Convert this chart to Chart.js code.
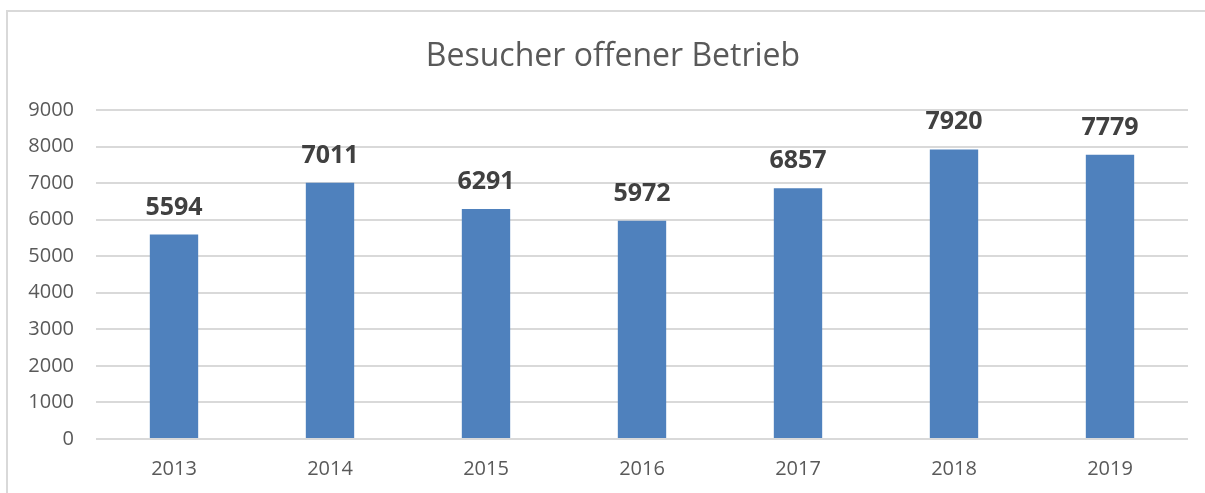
<!DOCTYPE html>
<html>
<head>
<meta charset="utf-8">
<script src="https://cdn.jsdelivr.net/npm/chart.js@4/dist/chart.umd.min.js"></script>
<style>
  html, body { margin: 0; padding: 0; background: #fff; }
  #wrap { position: relative; width: 1205px; height: 493px; overflow: hidden; }
  #frame { position: absolute; left: 6px; top: 10px; width: 1300px; height: 600px; border: 2px solid #d9d9d9; box-sizing: border-box; pointer-events: none; }
  canvas { position: absolute; left: 0; top: 0; }
</style>
</head>
<body>
<div id="wrap">
  <canvas id="c" width="1205" height="493"></canvas>
  <div id="frame"></div>
</div>
<script>
const categories = ["2013", "2014", "2015", "2016", "2017", "2018", "2019"];
const visitors = [5594, 7011, 6291, 5972, 6857, 7920, 7779];
const yTicks = [0, 1000, 2000, 3000, 4000, 5000, 6000, 7000, 8000, 9000];
const chartTitle = "Besucher offener Betrieb";

const FONT = "'Open Sans', 'Liberation Sans', sans-serif";

const valueLabels = {
  id: 'valueLabels',
  afterDatasetsDraw(chart) {
    const ctx = chart.ctx;
    const meta = chart.getDatasetMeta(0);
    ctx.save();
    ctx.font = "bold 25px " + FONT;
    ctx.fillStyle = "#404040";
    ctx.textAlign = "center";
    ctx.textBaseline = "alphabetic";
    meta.data.forEach((bar, i) => {
      ctx.fillText(String(visitors[i]), bar.x, bar.y - 20);
    });
    ctx.restore();
  }
};

const offsetTitle = {
  id: 'offsetTitle',
  afterDraw(chart) {
    const ctx = chart.ctx;
    ctx.save();
    ctx.font = "normal 32px " + FONT;
    ctx.fillStyle = "#595959";
    ctx.textAlign = "center";
    ctx.textBaseline = "middle";
    ctx.fillText(chartTitle, 613, 57);
    ctx.restore();
  }
};

new Chart(document.getElementById('c'), {
  type: 'bar',
  data: {
    labels: categories,
    datasets: [{
      data: visitors,
      backgroundColor: '#4f81bd',
      borderWidth: 0,
      categoryPercentage: 1.0,
      barPercentage: 0.31
    }]
  },
  options: {
    responsive: false,
    animation: false,
    devicePixelRatio: 1,
    layout: { padding: { left: 0, right: 17, top: 110, bottom: 0 } },
    plugins: {
      legend: { display: false },
      tooltip: { enabled: false },
      title: { display: false }
    },
    scales: {
      x: {
        grid: { display: false, drawTicks: false },
        border: { display: false },
        ticks: { color: '#595959', font: { family: FONT, size: 20 }, padding: 18 },
        afterFit(s) { s.height = 54; }
      },
      y: {
        min: 0, max: 9000,
        afterBuildTicks(s) { s.ticks = yTicks.map(v => ({ value: v })); },
        grid: { color: '#d9d9d9', lineWidth: 2, drawTicks: false },
        border: { display: false },
        ticks: {
          color: '#595959', font: { family: FONT, size: 20 }, padding: 22,
          callback: (v) => String(v)
        },
        afterFit(s) { s.width = 96; }
      }
    }
  },
  plugins: [valueLabels, offsetTitle]
});
</script>
</body>
</html>
